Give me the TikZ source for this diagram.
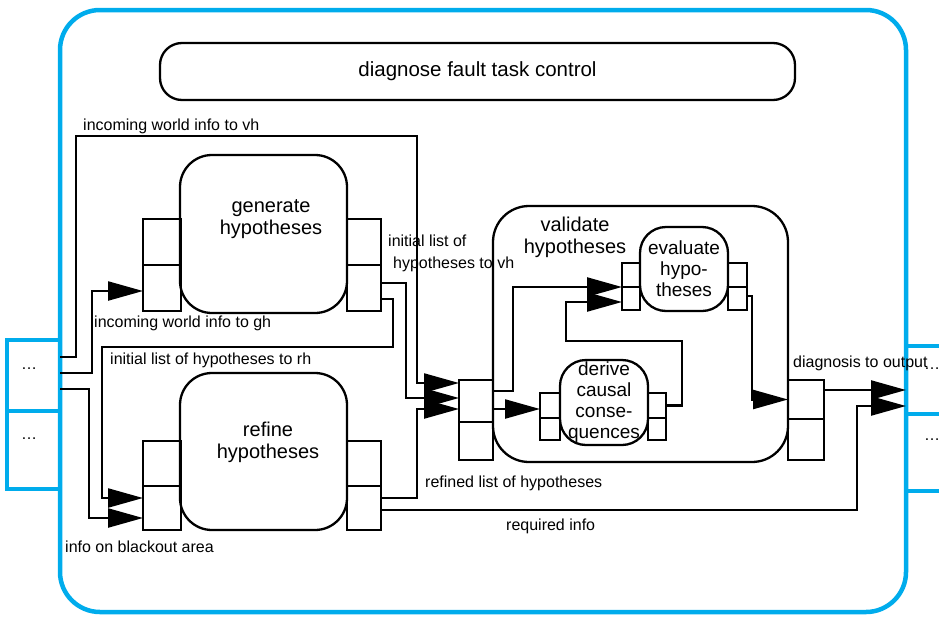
\documentclass[tikz,border=0pt]{standalone}
\usepackage{fontspec}
\setmainfont{Liberation Sans}
\usetikzlibrary{arrows.meta}
\definecolor{frameblue}{RGB}{0,172,236}
\tikzset{
	task/.style={draw,line width=2.3pt,inner sep=0pt,outer sep=0pt},
	port/.style 2 args={draw,line width=2.3pt,inner sep=0pt,outer sep=0pt,minimum width=#1,minimum height=#2},
	iobox/.style={draw=frameblue,line width=3.5pt,inner sep=0pt,outer sep=0pt,minimum width=53pt},
	tasktext/.style={font=\fontsize{20}{22}\selectfont,align=center,inner sep=0pt},
	subtext/.style={font=\fontsize{19}{21}\selectfont,align=center},
	lbl/.style={font=\fontsize{16}{22}\selectfont,inner sep=0pt,anchor=west},
	flow/.style={line width=2.3pt,-{Triangle[length=35pt,width=19pt]}}
}
\begin{document}
\begin{tikzpicture}[x=1pt,y=-1pt]
	\useasboundingbox (0,0) rectangle (939,616);
	% outer frame and the in/out boxes
	\node[draw=frameblue,line width=4.5pt,minimum width=846pt,minimum height=602pt,rounded corners=40pt] (outer) at (483,311) {};
	\node[iobox,minimum height=71pt] (leftA) at (33.5,375.5) {};
	\node[iobox,minimum height=78pt] (leftB) at (33.5,450) {};
	\node[iobox,minimum width=50pt,minimum height=68pt] (rightA) at (931,380) {};
	\node[iobox,minimum width=50pt,minimum height=77pt] (rightB) at (931,452.5) {};
	\node[lbl,anchor=center] (dotsLA) at (29,369) {…};
	\node[lbl,anchor=center] (dotsLB) at (29,439) {…};
	\node[lbl,anchor=center] (dotsRA) at (932,369) {…};
	\node[lbl,anchor=center] (dotsRB) at (932,440) {…};
	% task control
	\node[task,minimum width=635pt,minimum height=57pt,rounded corners=22pt,font=\fontsize{20.5}{22}\selectfont] (control) at (477.5,71.5) {diagnose fault task control};
	% generate and refine hypotheses
	\node[task,minimum width=167pt,minimum height=158pt,rounded corners=32pt] (genBox) at (263.5,234) {};
	\node[tasktext] (genText) at (271,219) {generate\\hypotheses};
	\node[task,minimum width=167pt,minimum height=157pt,rounded corners=32pt] (refBox) at (263.5,451.5) {};
	\node[tasktext] (refText) at (268,442) {refine\\hypotheses};
	\foreach \n/\y in {1/242,2/288} {
		\node[port={38pt}{46pt}] (genIn\n) at (162,\y) {};
		\node[port={34pt}{46pt}] (genOut\n) at (364,\y) {};
	}
	\foreach \n/\y/\h in {1/463.5/45,2/508/44} {
		\node[port={38pt}{\h pt}] (refIn\n) at (162,\y) {};
		\node[port={34pt}{\h pt}] (refOut\n) at (364,\y) {};
	}
	% validate hypotheses
	\node[task,minimum width=295pt,minimum height=256pt,rounded corners=36pt] (valBox) at (640.5,334) {};
	\node[tasktext] (valText) at (575,237) {validate\\hypotheses};
	\node[port={34pt}{42pt}] (valIn1) at (476,401) {};
	\node[port={34pt}{38pt}] (valIn2) at (476,441) {};
	\node[port={36pt}{39pt}] (valOut1) at (806,399.5) {};
	\node[port={36pt}{41pt}] (valOut2) at (806,439.5) {};
	\node[task,subtext,minimum width=88pt,minimum height=84pt,rounded corners=26pt] (evBox) at (684,269) {evaluate\\hypo-\\theses};
	\node[task,subtext,minimum width=88pt,minimum height=85pt,rounded corners=26pt] (derBox) at (604,402.5) {derive\\causal\\conse-\\quences};
	\foreach \n/\y/\h in {1/275/24,2/298.5/23} {
		\node[port={18pt}{\h pt}] (evIn\n) at (631,\y) {};
		\node[port={19pt}{\h pt}] (evOut\n) at (737.5,\y) {};
	}
	\foreach \n/\y/\h in {1/405.5/25,2/429/22} {
		\node[port={20pt}{\h pt}] (derIn\n) at (550,\y) {};
		\node[port={18pt}{\h pt}] (derOut\n) at (657,\y) {};
	}
	% links
	\draw[flow] ([yshift=-17pt]leftA.north east) -- ++(16,0) |- (417,136) |- ([yshift=-3pt]valIn1.north west);
	\draw[flow] ([yshift=-33pt]leftA.north east) -- ++(32,0) |- ([yshift=-3pt]genIn2.west);
	\draw[flow] ([yshift=-49pt]leftA.north east) -- ++(29,0) |- ([yshift=-10pt]refIn2.west);
	\draw[flow] ([yshift=5pt]genOut2.east) -- ++(25,0) |- ([yshift=3pt]valIn1.west);
	\draw[flow] ([yshift=-11pt]genOut2.east) -- ++(12,0) |- (102,347) |- ([yshift=10pt]refIn2.west);
	\draw[flow] ([yshift=10pt]refOut2.east) -- ++(36,0) |- ([yshift=-8pt]valIn1.west);
	\draw[flow] ([yshift=-2pt]refOut2.east) -- ++(476,0) |- ([yshift=-26pt]rightA.west);
	\draw[flow] ([yshift=10pt]valIn1.east) -- ++(20,0) |- (evIn2.north west);
	\draw[flow] ([yshift=-8pt]valIn1.east) -- ([yshift=-3.5pt]derIn1.west);
	\draw[flow] (derOut1.east) -- ++(16,0) |- (566,341) |- ([yshift=-3.5pt]evIn2.west);
	\draw[flow] ([yshift=2.5pt]evOut2.east) -- ++(5,0) |- (valOut1.west);
	\draw[flow] ([yshift=9.5pt]valOut1.east) -- ([yshift=-10pt]rightA.west);
	% link labels
	\node[lbl] (lblWorldVh) at (83,126.5) {incoming world info to vh};
	\node[lbl] (lblWorldGh) at (94,323.5) {incoming world info to gh};
	\node[lbl] (lblInitRh) at (110,360) {initial list of hypotheses to rh};
	\node[lbl] (lblBlackout) at (65,546.5) {info on blackout area};
	\node[lbl,align=left] (lblInitVh) at (388,253.5) {initial list of\\\hspace*{5pt}hypotheses to vh};
	\node[lbl] (lblRefined) at (425,483.5) {refined list of hypotheses};
	\node[lbl] (lblRequired) at (506,526.5) {required info};
	\node[lbl] (lblDiagnosis) at (793,363.5) {diagnosis to output};
\end{tikzpicture}
\end{document}
